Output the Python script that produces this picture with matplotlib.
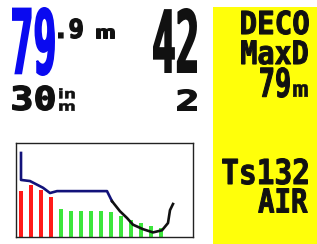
#!/usr/bin/env python3
"""
Dive computer screen (deco mode) recreated with matplotlib
"""

import matplotlib
matplotlib.use("Agg")
import matplotlib.pyplot as plt
from matplotlib.patches import Rectangle
from matplotlib.patheffects import AbstractPathEffect
from matplotlib.textpath import TextPath
from matplotlib.font_manager import FontProperties
from matplotlib.transforms import Affine2D

W, H, DPI = 317, 244, 100

# dive profile: time (min) and depth (m)
prof_time = [1.0, 1.0, 2.8, 5.4, 6.8, 8.2, 18.2, 19.2, 20.8, 22.2, 23.4,
             25.4, 27.4, 29.2, 30.4, 30.8, 31.4]
prof_depth = [8.9, 33, 34, 40, 44.7, 43, 43, 52, 61, 67, 73,
              77, 79.9, 78, 71.5, 60, 54.5]
n_navy = 8  # first points drawn in navy

# tissue compartment loading (%), first ones in red
tissue = [49, 55, 50, 43, 30, 28, 28, 28, 28, 27, 22, 18, 15, 12, 10]
n_red = 4


class Stretch(AbstractPathEffect):
    """Stretch the glyphs from the text origin and thicken them (LCD look)"""
    def __init__(self, sx=1.0, sy=1.0, stroke=0.0):
        super().__init__()
        self.sx, self.sy = sx, sy
        self.stroke = stroke

    def draw_path(self, renderer, gc, tpath, affine, rgbFace=None):
        aff = Affine2D().scale(self.sx, self.sy) + affine
        renderer.draw_path(gc, tpath, aff, rgbFace)
        if self.stroke > 0 and rgbFace is not None:
            gc0 = renderer.new_gc()
            gc0.copy_properties(gc)
            gc0.set_linewidth(self.stroke * 72 / DPI)
            gc0.set_foreground(rgbFace)
            gc0.set_joinstyle("miter")
            renderer.draw_path(gc0, tpath, aff, None)
            gc0.restore()


def lcd_text(ax, s, box, color="#111111", stroke=1.0):
    """Put text s so that its ink fills box = (left, top, right, bottom) in px"""
    h = stroke / 2
    x0, top, x1, bottom = box[0] + h, box[1] + h, box[2] - h, box[3] - h
    fp = FontProperties(family="DejaVu Sans Mono", weight="bold")
    ext = TextPath((0, 0), s, size=100, prop=fp).get_extents()
    kw = (x1 - x0) / ext.width
    kh = (bottom - top) / ext.height
    k = min(kw, kh)
    sx, sy = kw / k, kh / k
    fp.set_size(100 * k * 72 / DPI)
    ax.text(x0 - ext.x0 * k * sx, bottom + ext.y0 * k * sy, s, fontproperties=fp,
            ha="left", va="baseline", color=color,
            path_effects=[Stretch(sx, sy, stroke)])


def create_visualization():
    fig = plt.figure(figsize=(W / DPI, H / DPI), dpi=DPI)
    fig.patch.set_facecolor("white")

    # background layer in pixel units for the panel and the readouts
    bg = fig.add_axes([0, 0, 1, 1])
    bg.set_xlim(0, W)
    bg.set_ylim(H, 0)
    bg.axis("off")
    bg.add_patch(Rectangle((213, 7), W - 213, H - 7, color="#ffff0a", lw=0))

    lcd_text(bg, "79", (12, 7, 55, 76), color="#0a0af0", stroke=2.0)
    lcd_text(bg, ".9", (58, 18, 83, 39), stroke=1.5)
    lcd_text(bg, "m", (96, 28, 115, 39), stroke=1.0)
    lcd_text(bg, "42", (153, 8, 197, 73), stroke=2.0)
    lcd_text(bg, "30", (12, 85, 55, 111), stroke=1.5)
    lcd_text(bg, r"$^{\mathbf{in}}_{\mathbf{m}}$", (59, 88, 75, 111), stroke=0.5)
    lcd_text(bg, "2", (177, 89, 197, 111), stroke=1.5)

    lcd_text(bg, "DECO", (241, 10, 309, 35))
    lcd_text(bg, "MaxD", (241, 40, 308, 65))
    lcd_text(bg, "79", (260, 67, 290, 98))
    lcd_text(bg, "m", (293, 84, 308, 97), stroke=0.5)
    lcd_text(bg, "Ts132", (222, 158, 308, 185))
    lcd_text(bg, "AIR", (258, 188, 308, 213))

    rect = [16 / W, (H - 237) / H, 177 / W, 94 / H]

    # tissue bars
    axb = fig.add_axes(rect)
    colors = ["#ff1a1a"] * n_red + ["#3ce63c"] * (len(tissue) - n_red)
    axb.bar(range(len(tissue)), tissue, width=0.32, color=colors)
    axb.set_xlim(-0.5, 17.2)
    axb.set_ylim(0, 100)
    axb.axis("off")

    # depth profile
    axp = fig.add_axes(rect)
    axp.patch.set_alpha(0)
    axp.plot(prof_time[:n_navy], prof_depth[:n_navy], color="#12127a", lw=1.9,
             solid_joinstyle="round")
    axp.plot(prof_time[n_navy - 1:], prof_depth[n_navy - 1:], color="#111111", lw=1.9,
             solid_joinstyle="round")
    axp.set_xlim(0, 35.4)
    axp.set_ylim(84, 0)
    axp.set_xticks([])
    axp.set_yticks([])
    for sp in axp.spines.values():
        sp.set_color("#222222")
        sp.set_linewidth(1.0)

    fig.savefig("out.png", dpi=DPI)
    print("saved out.png")


def main():
    create_visualization()


if __name__ == "__main__":
    main()
